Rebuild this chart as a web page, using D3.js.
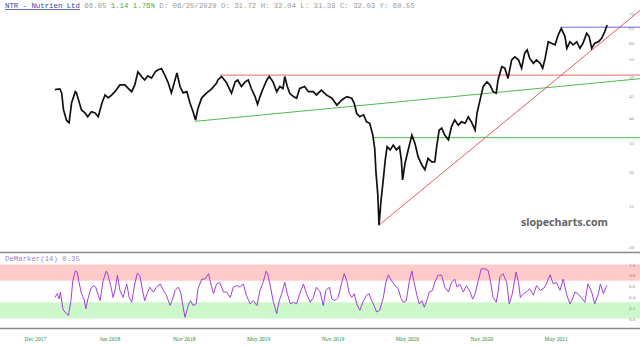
<!DOCTYPE html>
<html>
<head>
<meta charset="utf-8">
<script src="https://cdn.jsdelivr.net/npm/d3@7"></script>
<style>
  html, body { margin: 0; padding: 0; background: #fff; }
  svg { display: block; }
</style>
</head>
<body>
<div id="chart"></div>
<script>
// bar index counts trading days from the Dec 2017 label
const priceBars = [32, 40, 43, 46, 51, 55, 59, 65, 67, 71, 75, 81, 85, 91, 97, 102, 108, 113, 118, 124,
  129, 137, 145, 150, 156, 161, 166, 172, 177, 182, 188, 194, 198, 204, 210, 215, 220, 223, 229, 234,
  239, 245, 250, 255, 259, 263, 269, 277, 285, 293, 295, 301, 309, 317, 323, 327, 333, 339, 344, 349,
  355, 359, 363, 368, 374, 378, 384, 390, 395, 400, 403, 407, 411, 417, 422, 427, 435, 441, 449, 454,
  462, 470, 479, 487, 495, 503, 511, 515, 519, 524, 530, 535, 540, 545, 548, 550, 553, 555, 558, 562,
  565, 568, 573, 578, 583, 588, 591, 593, 597, 602, 608, 613, 618, 624, 629, 634, 640, 645, 648, 652,
  656, 661, 667, 672, 677, 683, 688, 694, 699, 704, 710, 713, 718, 723, 729, 734, 739, 744, 747, 753,
  758, 763, 769, 774, 780, 785, 790, 794, 798, 804, 809, 815, 819, 823, 828, 833, 839, 844, 849, 855,
  858, 863, 868, 874, 879, 884, 890, 894, 898, 903, 909, 914, 919, 923];
const priceClose = [46.6, 46.8, 45.8, 41.8, 39.5, 39.0, 43.4, 46.1, 45.8, 43.7, 41.8, 41.1, 40.3, 41.4, 41.1, 40.3, 43.4, 45.3, 44.6, 45.3,
  46.1, 47.8, 47.8, 47.0, 46.1, 47.8, 51.3, 50.0, 49.1, 50.2, 49.6, 51.3, 51.8, 52.2, 50.2, 48.3, 45.8, 47.4, 51.0, 47.4,
  45.8, 46.1, 43.4, 41.4, 39.6, 42.2, 44.6, 45.8, 46.8, 48.3, 49.1, 50.0, 48.4, 45.7, 48.6, 49.1, 47.4, 48.6, 49.1, 46.9,
  44.9, 43.1, 44.9, 46.9, 49.1, 50.0, 48.6, 46.1, 47.4, 46.9, 50.0, 47.4, 45.7, 44.9, 44.5, 46.9, 47.4, 46.1, 46.1, 45.3,
  46.5, 45.3, 44.5, 42.9, 44.1, 44.9, 44.5, 43.3, 41.0, 40.3, 40.7, 39.2, 38.9, 36.5, 34.0, 30.0, 26.5, 22.5, 25.5, 28.9,
  31.9, 34.3, 33.7, 34.6, 33.7, 34.3, 31.9, 28.7, 31.4, 33.7, 36.5, 34.9, 32.5, 31.1, 30.3, 32.2, 31.6, 31.6, 34.3, 37.5,
  37.9, 36.5, 35.6, 38.2, 39.6, 38.5, 39.2, 38.9, 40.3, 39.2, 37.5, 41.0, 44.1, 47.4, 48.6, 47.8, 46.1, 45.7, 49.1, 52.7,
  52.3, 49.5, 54.7, 55.6, 54.7, 52.3, 56.7, 57.7, 55.2, 53.7, 54.7, 53.7, 52.3, 55.2, 60.3, 59.8, 59.3, 62.5, 64.8, 62.0,
  58.2, 60.3, 59.3, 60.3, 58.2, 59.8, 63.1, 62.0, 58.2, 59.8, 60.3, 61.4, 63.6, 66.0];

const demBars = [32, 36, 39, 41, 45, 48, 54, 58, 61, 65, 68, 71, 75, 79, 82, 86, 90, 94, 98, 102,
  105, 110, 115, 118, 122, 126, 129, 133, 137, 142, 148, 152, 156, 161, 165, 169, 174, 177, 181, 185,
  191, 196, 202, 207, 212, 218, 222, 226, 231, 235, 239, 242, 247, 251, 255, 260, 263, 269, 274, 280,
  283, 288, 293, 298, 304, 309, 315, 320, 325, 331, 336, 341, 347, 352, 358, 363, 368, 373, 376, 380,
  384, 390, 394, 398, 403, 407, 412, 417, 422, 427, 433, 438, 444, 449, 454, 460, 465, 469, 475, 479,
  484, 489, 495, 499, 503, 507, 511, 515, 519, 524, 530, 535, 539, 543, 547, 551, 556, 562, 566, 570,
  575, 581, 586, 590, 594, 599, 604, 608, 611, 616, 620, 624, 628, 632, 636, 641, 645, 650, 656, 661,
  667, 672, 677, 681, 685, 691, 696, 702, 706, 710, 715, 720, 726, 731, 735, 739, 744, 747, 750, 755,
  761, 765, 770, 776, 780, 783, 788, 793, 798, 804, 809, 815, 820, 825, 831, 836, 841, 847, 852, 858,
  863, 867, 871, 876, 881, 887, 892, 898, 903, 909, 912, 917, 921, 923];
const demValues = [0.39, 0.46, 0.36, 0.49, 0.18, 0.12, 0.06, 0.33, 0.70, 0.88, 0.86, 0.67, 0.46, 0.36, 0.18, 0.39, 0.55, 0.61, 0.58, 0.43,
  0.33, 0.70, 0.88, 0.80, 0.61, 0.39, 0.52, 0.80, 0.52, 0.39, 0.64, 0.39, 0.30, 0.64, 0.84, 0.80, 0.49, 0.33, 0.46, 0.58,
  0.49, 0.58, 0.64, 0.52, 0.43, 0.24, 0.36, 0.52, 0.58, 0.49, 0.21, 0.02, 0.24, 0.33, 0.24, 0.27, 0.55, 0.73, 0.73, 0.83,
  0.67, 0.46, 0.64, 0.67, 0.49, 0.49, 0.39, 0.58, 0.61, 0.58, 0.64, 0.43, 0.27, 0.33, 0.24, 0.52, 0.67, 0.88, 0.80, 0.58,
  0.33, 0.09, 0.33, 0.46, 0.67, 0.46, 0.27, 0.30, 0.27, 0.46, 0.64, 0.46, 0.30, 0.39, 0.58, 0.49, 0.24, 0.52, 0.58, 0.36,
  0.33, 0.39, 0.67, 0.83, 0.70, 0.46, 0.39, 0.46, 0.27, 0.15, 0.33, 0.43, 0.46, 0.33, 0.24, 0.12, 0.15, 0.39, 0.67, 0.81,
  0.70, 0.61, 0.55, 0.39, 0.30, 0.33, 0.70, 0.88, 0.70, 0.43, 0.27, 0.33, 0.21, 0.33, 0.49, 0.52, 0.67, 0.80, 0.80, 0.58,
  0.49, 0.67, 0.73, 0.58, 0.64, 0.49, 0.61, 0.49, 0.36, 0.46, 0.70, 0.92, 0.92, 0.89, 0.67, 0.39, 0.30, 0.49, 0.77, 0.83,
  0.67, 0.27, 0.46, 0.86, 0.67, 0.39, 0.46, 0.49, 0.55, 0.43, 0.61, 0.52, 0.55, 0.64, 0.81, 0.64, 0.67, 0.52, 0.73, 0.43,
  0.27, 0.36, 0.49, 0.46, 0.39, 0.30, 0.64, 0.49, 0.27, 0.46, 0.64, 0.46, 0.58, 0.61];

const priceTicks = [20, 25, 30, 35, 40, 45, 50, 55, 60, 65, 70];
const demTicks = [0, 0.2, 0.4, 0.6, 0.8, 1.0];
const dateTickBars = [0, 120, 240, 360, 480, 600, 720, 840];
const dateTickLabels = ["Dec 2017", "Jun 2018", "Nov 2018", "May 2019", "Nov 2019", "May 2020", "Nov 2020", "May 2021"];

// drawn lines: two [bar, price] anchors each, extended to the right edge
const resistanceLine = [[299, 50.4], [923, 50.4]];
const supportSlope = [[258, 39.3], [923, 48.6]];
const crashShelf = [[545, 36.0], [923, 36.0]];
const riseLine = [[555, 22.5], [923, 61.7]];
const topLine = [[850, 65.2], [923, 65.2]];

const demBands = [[0.7, 1.0], [0.0, 0.3]];

const W = 640, H = 347;

const svg = d3.select("#chart")
  .append("svg")
  .attr("width", W)
  .attr("height", H)
  .attr("viewBox", `0 0 ${W} ${H}`);

const x = d3.scaleLinear().domain([0, 976]).range([35, 640]);
const yPrice = d3.scaleLog().domain([20, 70]).range([247, 14]);
const yDem = d3.scaleLinear().domain([0, 1]).range([318.5, 264.5]);

// demarker bands
svg.selectAll(".band")
  .data(demBands)
  .enter()
  .append("rect")
  .attr("x", 0)
  .attr("width", W)
  .attr("y", (d) => yDem(d[1]))
  .attr("height", (d) => yDem(d[0]) - yDem(d[1]))
  .style("fill", (d, i) => (i === 0 ? "#ffcaca" : "#ccf8cc"));

// panel borders
[252.5, 328.5].forEach((yy) => {
  svg.append("line")
    .attr("x1", 0).attr("x2", W)
    .attr("y1", yy).attr("y2", yy)
    .style("stroke", "#8a8a8a")
    .style("stroke-width", 1.5);
});

// right axes
const styleAxis = (g, size) => {
  g.select(".domain").remove();
  g.attr("font-family", "'Liberation Serif', serif").attr("font-size", size);
  g.selectAll("text").style("fill", "#8a8a8a");
};

svg.append("g")
  .attr("transform", "translate(629,0)")
  .call(d3.axisRight(yPrice).tickValues(priceTicks).tickFormat(d3.format("d")).tickSize(0).tickPadding(0))
  .call((g) => styleAxis(g, 5));

svg.append("g")
  .attr("transform", "translate(629,0)")
  .call(d3.axisRight(yDem).tickValues(demTicks).tickFormat(d3.format(".1f")).tickSize(0).tickPadding(0))
  .call((g) => styleAxis(g, 5));

// date axis
svg.append("g")
  .attr("transform", "translate(0,336.5)")
  .call(d3.axisBottom(x).tickValues(dateTickBars).tickFormat((d, i) => dateTickLabels[i]).tickSize(0).tickPadding(0))
  .call((g) => {
    g.select(".domain").remove();
    g.attr("font-family", "'Liberation Serif', serif").attr("font-size", 5.7);
    g.selectAll("text").style("fill", "#2f8a2f");
  });

// trend lines
const drawTrend = (pts, color) => {
  const [p0, p1] = pts.map((p) => [x(p[0]), yPrice(p[1])]);
  const t = (W - p0[0]) / (p1[0] - p0[0]);
  svg.append("line")
    .attr("x1", p0[0]).attr("y1", p0[1])
    .attr("x2", W).attr("y2", p0[1] + t * (p1[1] - p0[1]))
    .style("stroke", color)
    .style("stroke-width", 1);
};
drawTrend(resistanceLine, "#e86a6a");
drawTrend(supportSlope, "#4cbf4c");
drawTrend(crashShelf, "#4cbf4c");
drawTrend(riseLine, "#e65c5c");
drawTrend(topLine, "#6b6be0");

// price
const priceLine = d3.line()
  .x((d) => x(d[0]))
  .y((d) => yPrice(d[1]));

svg.append("path")
  .datum(d3.zip(priceBars, priceClose))
  .attr("d", priceLine)
  .style("fill", "none")
  .style("stroke", "#111")
  .style("stroke-width", 1.7)
  .style("stroke-linejoin", "miter");

// demarker
const demLine = d3.line()
  .x((d) => x(d[0]))
  .y((d) => yDem(d[1]));

svg.append("path")
  .datum(d3.zip(demBars, demValues))
  .attr("d", demLine)
  .style("fill", "none")
  .style("stroke", "#a23fd8")
  .style("stroke-width", 1);

// header
const header = svg.append("text")
  .attr("x", 5)
  .attr("y", 8)
  .attr("font-family", "'Liberation Mono', monospace")
  .attr("font-size", 7.35)
  .attr("xml:space", "preserve");
header.append("tspan").text("NTR - Nutrien Ltd")
  .style("fill", "#2f3fa8").style("text-decoration", "underline");
header.append("tspan").text(" 66.05").style("fill", "#999");
header.append("tspan").text(" 1.14 1.76%").style("fill", "#4aa84a");
header.append("tspan").text(" D: 06/25/2020 O: 31.72 H: 32.04 L: 31.38 C: 32.03 Y: 60.55").style("fill", "#999");

svg.append("text")
  .attr("x", 5)
  .attr("y", 261)
  .attr("font-family", "'Liberation Mono', monospace")
  .attr("font-size", 7.35)
  .style("fill", "#9a86c4")
  .text("DeMarker(14) 0.35");

// watermark
svg.append("text")
  .attr("x", 521)
  .attr("y", 226)
  .attr("font-family", "'Open Sans', sans-serif")
  .attr("font-weight", "bold")
  .attr("font-size", 10.6)
  .style("fill", "#636363")
  .text("slopecharts.com");
</script>
</body>
</html>
